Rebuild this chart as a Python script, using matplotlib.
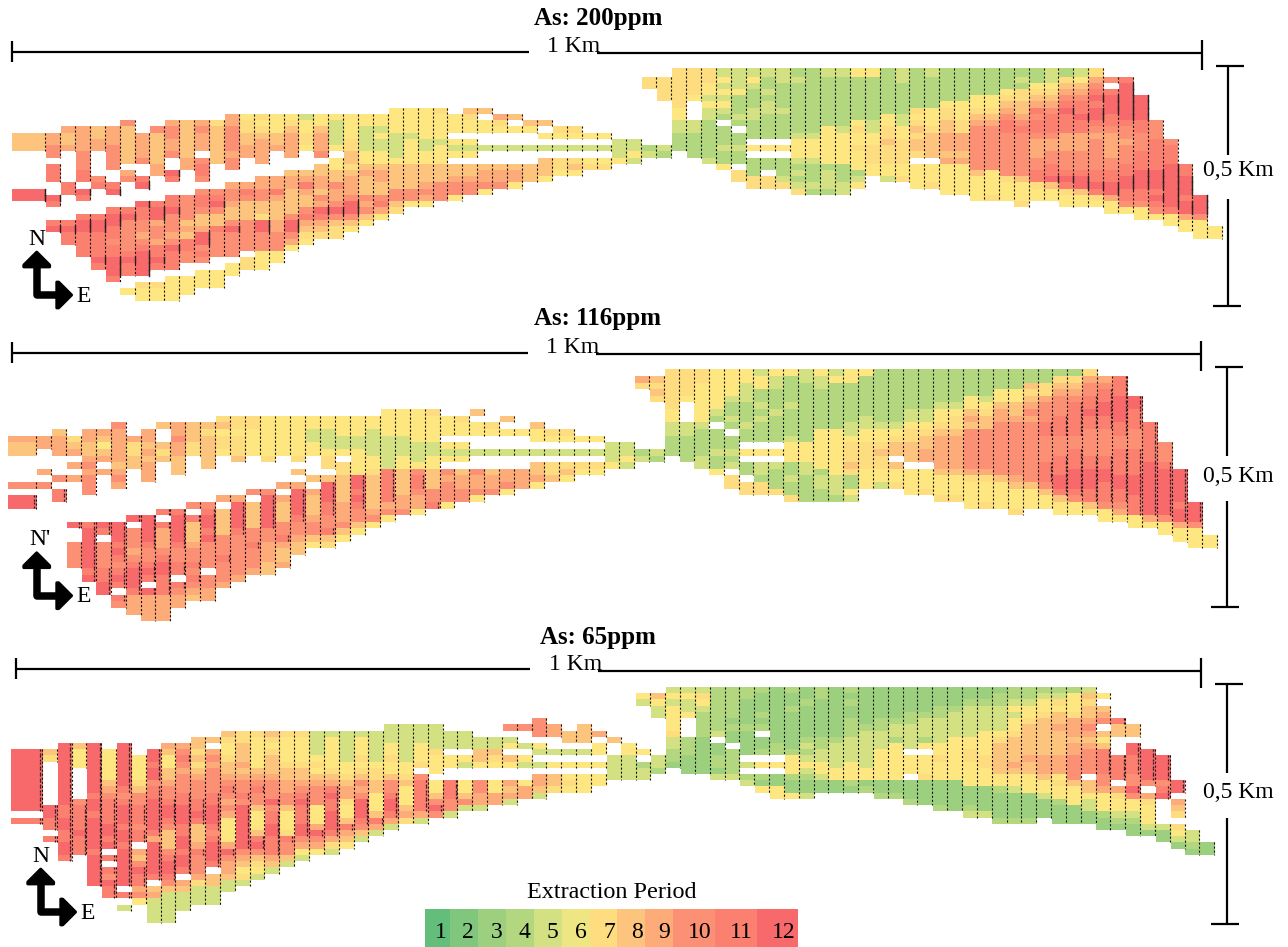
import numpy as np
import matplotlib
matplotlib.use("Agg")
import matplotlib.pyplot as plt
from matplotlib.colors import LinearSegmentedColormap, Normalize
from matplotlib.patches import Polygon

plt.rcParams['font.family'] = ['Liberation Serif', 'DejaVu Serif']
plt.rcParams['lines.scale_dashes'] = False

# one string per column, top row first
# . = no block, 1-9 a b c = period 1..12, y = between period 6 and 7
AS_200 = [
    "..........888......cc", "..........99aa.bbb..cb..bc", ".........9889.....bb....bcbb",
    ".........9999aaabb.cb..bccbbbb", ".........8899....ab....bccbbbbcb", ".........999aaaa..bc..bccbbabbcccb",
    "........a888888.9a....bcaaaaabcbb..y", "..........9999a..bc..cbbaa9abcccc.7yy", ".........a8888899....bcc9aa9bbcb..7yy",
    "........9aa99a..cb..bbcaaa9acbbb.yyyy", "........88888899....aaaa898bbaa..yyy", "........9a999.abba.abba889ccaba.yyy",
    "........7888888....abca88baaaa..yyy", ".......99aaaa9aa..9aa988acaaaa.yy", ".......y778899....9ba888aaaaa.77",
    ".......7y789999..99aa887ccaaayyy", ".......yyy889....99b988899aaayy", ".......y789999..8998888acca9y",
    ".......5yy77y...89b988ab987y", ".......yy8999a.88998a9cb987", ".......y5555y.yy88a99aca877",
    ".......yyyy778878999acca8y", ".......yy5555yy89888a9a8y", ".......yy5y55yy89988ab9y",
    "......yyyy5555y8888aa87", "......yyyy5yyyy8888aay", "......yyyyy55yy8889a9y",
    "......7yyyy5yyy888aaa", ".......yyy.y5y.889aay", "......87yy.y5y.889aa",
    "......8.yy..5..899ay", ".......97y..5..899a", ".......8.y..5..899y",
    "........8y..5..888", "........8.y.5.888y", ".........7y.5.77y",
    ".........7y.5.78y", "..........y.5.y7", "..........y.5.y7",
    "...........555y", "...........55y5", ".77.........45",
    ".7777.......54", "777777yy55444", "7777y...554444",
    "77yy5y554444445", "5y5y5y54.444544y", "555y44454.44544.77",
    "5y544455444.y.44477", "54454554444.y.44.77", "55444454444.y.44457",
    "45444444445yyy545457", "44444444445yyy544454", "544444444yyyyyy45554",
    "5444444445yyyyy44455", "y4444444y7yy7yyy45y", "y444444455yy777yy",
    "4444444yy778777yy5", "554444455yy7777yy7", "4444447y787887.yyyy",
    "544444yyy78888.yyy7", "44444y778899989yyyyy", "44444yyy7799989yyyyy",
    "4444yy789aaaaaaa8yyyy", "4444yy789aaaaaaayyyy7", "444y789abbaaaaaaa7yyy",
    "45477889abaaaaaaa8yyy7", "44y789babba999aabb7yy", "55y789abbba99aabbc8yy",
    "4789abcbbb999aaabcb7yy", "5y89abbcbb999aaabcc8yy", "79abcbccba9aaaaabbcb7y",
    ".a.bcccbba9999aabbcc9yy", ".bccccccbaa9aaabbccbbay", "....ccccbbaaabbbcccbbayy",
    "........aaabbbbbcccbcbay", "...........abbbcccccccbyy", "...............bbcccbcc9yy",
    "....................cccayyy", ".........................yy",
]

AS_116 = [
    "..........988....a.cc", "..........99...9.a", ".........8999...a.bb",
    "..........789.9.9......c..aaaa", ".........99889a9aaa....bccccccbc", ".........98y89.9.......cb.aaaabbcc",
    "........a9999989a9.....cccbcbabcb.ba", "..........97788.......c.aaa9abcccb999", ".........99898999.....ccccbaabcb.c9999",
    "........8..878.......b.b999abccbbb9999", "........99a99888.....bccccbaabb.ba99", "........88877.......a.b8889aababa98",
    "........8788888.....abccbcaaaa.aa99", ".......78y77y......9.8888aaabaaa9", ".......77y7778.....9ccccbaaaaaa9",
    ".......77yyyy.....a.8888aabaaa9", ".......yyyyyy7....acccccaa99988", ".......yyyyyy....9.9888aab9889",
    ".......yyyyyy7.8.9ccccbaa988", ".......yy55yy...8.98889aa8y", ".......yy555y77.8cccbbaab87",
    ".......yyy55y.778888999a8y", ".......yyy55yyyyccbcbaa8y", ".......yy5555yy7888889ay",
    "......yyyy55555bbbbb9ay", "......yyyy555yy888899a", "......yyyyy555yabba99y",
    "......7yyyy55yy888aab", ".......yyy.y5y.a9aaay", ".......7yy.y5y.899aa",
    "......8.yy..5..a99ay", "........7y..5..899a", ".......8.y..5..99ay",
    ".........y..5..999", "........8yy.5.889y", ".........7y.5.778",
    ".........7y.5.78y", "..........y.5.7y", "..........y.5.7y",
    "...........555y", "...........55y5", ".97.........45",
    ".8787.......54", "777777yy55444", "7777y...554444",
    "77yyyyyy5444455", "yyyyyy54.444544y", "yyyy54454.44545.77",
    "yy555444544.y.44.77", "5yy44545444.y.55477", "y5544454444.y.54447",
    "y4444544445yyy445447", "55444444444yyy554444", "y55444444yyyyyy45544",
    "5y4444444yyyyyyy5554", "yy44444455y7778744y5", "y44444455yy7777yyy",
    "444444445yy7877yy5", "444444445y788.8yy7", "44444455y77888.yyyy",
    "44444455y78899.yyy7", "444445yy78999998yyy7", "444445y778999998yyy7",
    "4444yy898aaaaaa97yyyy", "44445y788aaaaaa97yyy7", "444yy899aaaaaaaa8yyyy",
    "444yy889aaaaaaaa98yyy7", "448789a9aaaaaaaaa8yyy", "44779aaabbaaaabbba8yy",
    "4789aaabbbaaabbbccb8yy", "4789abbbbbaabbbcccbayy", "79aabbcbbaaaabbcccbb8y",
    ".9abbccbbaaaabbccbbbayy", ".bbbccccbbaabbbbccbba9y", "....ccbbbaaabbbbcccbbbyy",
    "........bbbbbbcccccccc9y", "...........aaabcccccccayy", "...............cccccbcc9yy",
    "....................cccayyy", ".........................yy",
]

AS_65 = [
    "..........cccccccccc.b", "..........87.......ccbb.b", ".........ccccccccccbbccbbccb",
    ".........8yyy.....abbbbcbbb", ".........ccccccccbccbcccccbccccc", "..........yyyyy89abbbbccbc.b.bacbb",
    ".........cccccccbabcccbccbcccccc.b.5", "...........yyyy78aabbbabb.98acbb9ay", "..........ccbccabbcccccb9cccccb.895555",
    ".........98yy889aabccba888abccba855555", ".........9aba9aaabbcccbbccbccb.98555", "........8878789aaabbcb8889baaa97555",
    "........8.9a9aaaabbcccbabcccb.88555", ".......87yy7889aba9a9yyyy9ca99855", ".......77888989aabaccccccca98y75",
    ".......7yyyyy89abaa8yyy8bca87y5", ".......87y78889aaacabbccbbb985", ".......7yyyy78899aa8yyy7baa85",
    ".......7yyyy7889abcbbbcca9y5", ".......5555y7y89aaayyy9ca9y", ".......5yyyyy789bcbbcccb975",
    ".......55555yy78997yy8b98y", ".......5yyy7y78a9acccba85", ".......55555y7788yyy8b95",
    "......555yy7yy8aabccb95", "......555555yy78yyy897", "......555yyy7.abbbbb95",
    "......55557yyy.yy8aca", ".......555.yy..bbbaa5", ".......555.y5..yy8a5",
    "........5588y..aa995", "........5587y..yy99", "......a.5y.8y..9895",
    "......a..5.y5..y99", ".....aaa.y5.5.9985", "......99..5.y.887",
    ".......88.5.y.y7y", "......888.5.y.yyy", ".......9.yy.y.yy",
    "........8..5555", ".........yy5555", ".y5.......y.455",
    ".8y55......554", "5y5yyyy755443", "5y55y...444333",
    "57y54444333333", "44444445.334435", "444443433.44445",
    "44333343333.5.45", "4333434.334.y.43y", "33333333344.y.33yy",
    "43343333334yyy433y", "334333334545y54335", "443333334455yy533",
    "3333333345555yy33", "434334445555yyy43", "3333334555555yy34",
    "3333344555yyyyy334", "333334554yyyyyy334", "3333445555.yyy.3334",
    "333345554y.yyy73333", "333445555yy7yyy33334", "33345555yyyyyyy33333",
    "33455555yy77yyyy33345", "3345555yyyy77yyy33335", "3445555y788888yy433334",
    "445y5yy7888898yy533334", "445yy788888988yyy33334", "45yy78888889998yy5333",
    "457y8898888999y7yy4333", "4yyy7999899aaaa8yyy333", "587889a989aaaa.88y5533",
    ".y.89a.8y8bbbbaa9yyy433", ".....b88...bbbb.97yy543", "......88.ccbbbaacayy5433",
    "..........ccccca.97yyy53", "...........ccccabc....533", "...............cc.987.7y53",
    ".......................5543", ".........................33",
]

TITLES = ["As: 200ppm", "As: 116ppm", "As: 65ppm"]
PERIODS = list(range(1, 13))
PERIOD_COLORS = ["#63BE7B", "#80C77D", "#9CD07F", "#B3D77F", "#D3E182", "#EEE683",
                 "#FEDD81", "#FDC47D", "#FCAB79", "#FB9074", "#FB8070", "#F8696B"]

stops = [((p - 1) / 11, c) for p, c in zip(PERIODS, PERIOD_COLORS)]
stops.insert(6, (5.5 / 11, "#FEE680"))
cmap = LinearSegmentedColormap.from_list("period", stops, N=1024)
cmap.set_bad((1, 1, 1, 0))
norm = Normalize(1, 12)


def to_grid(columns, nrows=38):
    grid = np.full((nrows, len(columns)), np.nan)
    for j, col in enumerate(columns):
        for i, ch in enumerate(col):
            if ch == '.':
                continue
            grid[i, j] = 6.5 if ch == 'y' else int(ch, 16)
    return grid


def draw_dashes(ax, columns, xe, ye, double):
    for j, col in enumerate(columns):
        x = xe[j + 1] - 0.8
        i = 0
        while i < len(col):
            if col[i] == '.':
                i += 1
                continue
            k = i
            while k < len(col) and col[k] != '.':
                k += 1
            ax.plot([x, x], [ye[i], ye[k]], color='#111111', lw=0.8, ls=(0, (1.5, 1.4)), zorder=3)
            i = k
        # red blocks have the lines doubled in the source picture
        for i, ch in enumerate(col):
            if double == 'solid' and ch == 'c':
                ax.plot([x, x], [ye[i], ye[i + 1]], color='#222222', lw=1.0, zorder=3)
            elif double == 'side' and ch in 'bc':
                ax.plot([x - 1.7, x - 1.7], [ye[i], ye[i + 1]], color='#222222', lw=0.9,
                        ls=(0, (1.5, 1.4)), zorder=3)


def scale_bars(ax, left, right, y1, y2, gap1, gap2, vx, vtop, vgap1, vgap2, vbot, capx):
    k = dict(color='black', lw=1.6, solid_capstyle='butt')
    ax.plot([left, gap1], [y1, y1], **k)
    ax.plot([left, left], [y1 - 11, y1 + 10], **k)
    ax.plot([gap2, right], [y2, y2], **k)
    ax.plot([right, right], [y2 - 13, y2 + 17], **k)
    ax.plot([vx, vx], [vtop, vgap1], **k)
    ax.plot([vx, vx], [vgap2, vbot], **k)
    ax.plot([vx - 12, vx + 16], [vtop, vtop], **k)
    ax.plot([capx, capx + 28], [vbot, vbot], **k)


def compass(ax, x, y, north):
    ax.plot([x, x, x + 24], [y + 12, y + 43, y + 43], color='black', lw=5.4, solid_joinstyle='round', zorder=4)
    ax.add_patch(Polygon([(x, y), (x + 13, y + 13), (x + 13, y + 15), (x - 13, y + 15), (x - 13, y + 13)],
                         fc='black', ec='black', lw=2, joinstyle='round', zorder=4))
    ax.add_patch(Polygon([(x + 35, y + 43), (x + 22, y + 56), (x + 20, y + 56), (x + 20, y + 30), (x + 22, y + 30)],
                         fc='black', ec='black', lw=2, joinstyle='round', zorder=4))
    ax.text(x + (3 if north == "N'" else 0), y - 13, north, fontsize=17, ha='center', va='center')
    ax.text(x + 47, y + 44, "E", fontsize=17, ha='center', va='center')


fig = plt.figure(figsize=(12.88, 9.47), dpi=100)
ax = fig.add_axes([0, 0, 1, 1])
ax.axis('off')

panels = [
    (AS_200, 12, 46, 14.9, 68.3, 70.3, 6.23, 'solid'),
    (AS_116, 8, 36.7, 14.95, 369.3, 369.3, 6.633, 'side'),
    (AS_65, 11, 42.7, 14.84, 687, 687, 6.217, 'side'),
]
for cols, x0, x1, dx, ytop, y1, dy, double in panels:
    xe = np.r_[x0, x1 + dx * np.arange(len(cols))]
    ye = np.r_[ytop, y1 + dy * np.arange(1, 39)]
    ax.pcolormesh(xe, ye, np.ma.masked_invalid(to_grid(cols)), cmap=cmap, norm=norm, antialiased=False, zorder=2)
    draw_dashes(ax, cols, xe, ye, double)

# titles and scale bars
for title, ty, kx, ky, vy in zip(TITLES, [18, 318, 637], [574, 573, 575.5], [46, 347, 664], [170, 476, 792]):
    ax.text(598, ty, title, fontsize=18, fontweight='bold', ha='center', va='center')
    ax.text(kx, ky, "1 Km", fontsize=17, ha='center', va='center')
    ax.text(1238, vy, "0,5 Km", fontsize=17, ha='center', va='center')

scale_bars(ax, 12, 1202, 51.7, 53, 529, 597, 1228, 66, 155, 199, 306, 1213)
scale_bars(ax, 12, 1200.7, 352.5, 354, 528, 596, 1227, 367, 456, 500.7, 606.7, 1211)
scale_bars(ax, 16, 1200.7, 669.3, 671, 530, 598, 1227, 684, 773, 818, 924, 1211)

compass(ax, 36.7, 252, "N")
compass(ax, 36.7, 552.7, "N'")
compass(ax, 40.7, 869, "N")

# legend
legend_edges = [425, 450, 478.3, 506, 534, 562, 590, 617.3, 645.3, 673.3, 715, 756.7, 798]
legend_xs = [440.7, 468, 496.7, 524, 552.7, 580.7, 609, 636.7, 664, 700, 741.7, 784]
ax.pcolormesh(legend_edges, [909, 947], np.array([PERIODS], dtype=float), cmap=cmap, norm=norm, antialiased=False)
for p, x in zip(PERIODS, legend_xs):
    ax.text(x, 932, str(p), fontsize=17, ha='center', va='center')
ax.text(611.7, 892, "Extraction Period", fontsize=17.4, ha='center', va='center')

ax.set_xlim(0, 1288)
ax.set_ylim(947, 0)
fig.savefig("out.png", dpi=100, facecolor='white')
